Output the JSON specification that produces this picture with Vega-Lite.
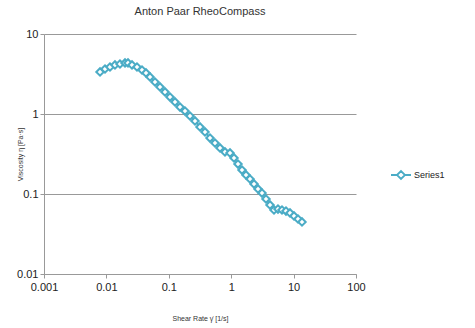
{
  "$schema": "https://vega.github.io/schema/vega-lite/v6.json",
  "width": 312,
  "height": 240,
  "autosize": {"type": "none"},
  "padding": {"left": 44, "top": 34, "right": 119, "bottom": 54},
  "background": "white",
  "config": {
    "view": {"stroke": null},
    "font": "Liberation Sans"
  },
  "title": {
    "text": "Anton Paar RheoCompass",
    "fontSize": 11,
    "fontWeight": "normal",
    "font": "Liberation Sans",
    "color": "#333333",
    "anchor": "middle",
    "offset": 11
  },
  "data": {
    "values": [
      {"rate": 0.00790, "visc": 3.350, "series": "Series1"},
      {"rate": 0.00950, "visc": 3.652, "series": "Series1"},
      {"rate": 0.01142, "visc": 3.868, "series": "Series1"},
      {"rate": 0.01373, "visc": 4.099, "series": "Series1"},
      {"rate": 0.01651, "visc": 4.217, "series": "Series1"},
      {"rate": 0.01987, "visc": 4.341, "series": "Series1"},
      {"rate": 0.02219, "visc": 4.341, "series": "Series1"},
      {"rate": 0.02572, "visc": 4.099, "series": "Series1"},
      {"rate": 0.03093, "visc": 3.868, "series": "Series1"},
      {"rate": 0.03720, "visc": 3.548, "series": "Series1"},
      {"rate": 0.04311, "visc": 3.255, "series": "Series1"},
      {"rate": 0.04996, "visc": 2.901, "series": "Series1"},
      {"rate": 0.06008, "visc": 2.512, "series": "Series1"},
      {"rate": 0.07228, "visc": 2.176, "series": "Series1"},
      {"rate": 0.08693, "visc": 1.884, "series": "Series1"},
      {"rate": 0.1045, "visc": 1.631, "series": "Series1"},
      {"rate": 0.1257, "visc": 1.413, "series": "Series1"},
      {"rate": 0.1512, "visc": 1.223, "series": "Series1"},
      {"rate": 0.1818, "visc": 1.090, "series": "Series1"},
      {"rate": 0.2186, "visc": 0.944, "series": "Series1"},
      {"rate": 0.2629, "visc": 0.818, "series": "Series1"},
      {"rate": 0.3162, "visc": 0.688, "series": "Series1"},
      {"rate": 0.3803, "visc": 0.596, "series": "Series1"},
      {"rate": 0.4574, "visc": 0.501, "series": "Series1"},
      {"rate": 0.5500, "visc": 0.434, "series": "Series1"},
      {"rate": 0.6614, "visc": 0.376, "series": "Series1"},
      {"rate": 0.7955, "visc": 0.335, "series": "Series1"},
      {"rate": 0.9567, "visc": 0.326, "series": "Series1"},
      {"rate": 1.109, "visc": 0.282, "series": "Series1"},
      {"rate": 1.285, "visc": 0.237, "series": "Series1"},
      {"rate": 1.490, "visc": 0.1995, "series": "Series1"},
      {"rate": 1.727, "visc": 0.1728, "series": "Series1"},
      {"rate": 2.001, "visc": 0.1540, "series": "Series1"},
      {"rate": 2.320, "visc": 0.1334, "series": "Series1"},
      {"rate": 2.689, "visc": 0.1155, "series": "Series1"},
      {"rate": 3.117, "visc": 0.1029, "series": "Series1"},
      {"rate": 3.613, "visc": 0.0866, "series": "Series1"},
      {"rate": 4.187, "visc": 0.0729, "series": "Series1"},
      {"rate": 4.853, "visc": 0.0631, "series": "Series1"},
      {"rate": 5.623, "visc": 0.0649, "series": "Series1"},
      {"rate": 6.518, "visc": 0.0631, "series": "Series1"},
      {"rate": 7.555, "visc": 0.0613, "series": "Series1"},
      {"rate": 8.757, "visc": 0.0579, "series": "Series1"},
      {"rate": 10.15, "visc": 0.0531, "series": "Series1"},
      {"rate": 11.77, "visc": 0.0487, "series": "Series1"},
      {"rate": 13.63, "visc": 0.0447, "series": "Series1"}
    ]
  },
  "mark": {
    "type": "line",
    "strokeWidth": 2,
    "point": {"shape": "diamond", "filled": false, "fill": "white", "size": 55, "strokeWidth": 2}
  },
  "encoding": {
    "x": {
      "field": "rate",
      "type": "quantitative",
      "scale": {"type": "log", "domain": [0.001, 100], "nice": false},
      "axis": {
        "title": "Shear Rate γ̇  [1/s]",
        "values": [0.001, 0.01, 0.1, 1, 10, 100],
        "format": "~g",
        "grid": false,
        "domainColor": "#999999",
        "tickColor": "#999999",
        "tickSize": 4,
        "labelFontSize": 11,
        "labelColor": "#222222",
        "labelPadding": 3,
        "labelFont": "Liberation Sans",
        "labelFlush": false,
        "titleFontSize": 7,
        "titleFontWeight": "normal",
        "titleColor": "#333333",
        "titlePadding": 22
      }
    },
    "y": {
      "field": "visc",
      "type": "quantitative",
      "scale": {"type": "log", "domain": [0.01, 10], "nice": false},
      "axis": {
        "title": "Viscosity η  [Pa·s]",
        "values": [0.01, 0.1, 1, 10],
        "format": "~g",
        "grid": true,
        "gridColor": "#999999",
        "gridWidth": 1,
        "domainColor": "#999999",
        "tickColor": "#999999",
        "tickSize": 4,
        "labelFontSize": 11,
        "labelColor": "#222222",
        "labelPadding": 2,
        "labelFont": "Liberation Sans",
        "labelFlush": false,
        "titleFontSize": 7,
        "titleFontWeight": "normal",
        "titleColor": "#333333",
        "titleX": -24,
        "titleBaseline": "middle"
      }
    },
    "color": {
      "field": "series",
      "type": "nominal",
      "scale": {"range": ["#4bacc6"]},
      "legend": {
        "title": null,
        "orient": "none",
        "legendX": 346,
        "legendY": 130,
        "symbolType": "M-1,0H-0.4M0.4,0H1M-0.4,0L0,-0.4L0.4,0L0,0.4Z",
        "symbolSize": 400,
        "symbolStrokeWidth": 1.8,
        "symbolFillColor": "white",
        "labelFontSize": 9,
        "labelColor": "#222222",
        "labelOffset": 2,
        "encode": {"symbols": {"update": {"fill": {"value": "white"}, "fillOpacity": {"value": 1}}}}
      }
    }
  }
}
